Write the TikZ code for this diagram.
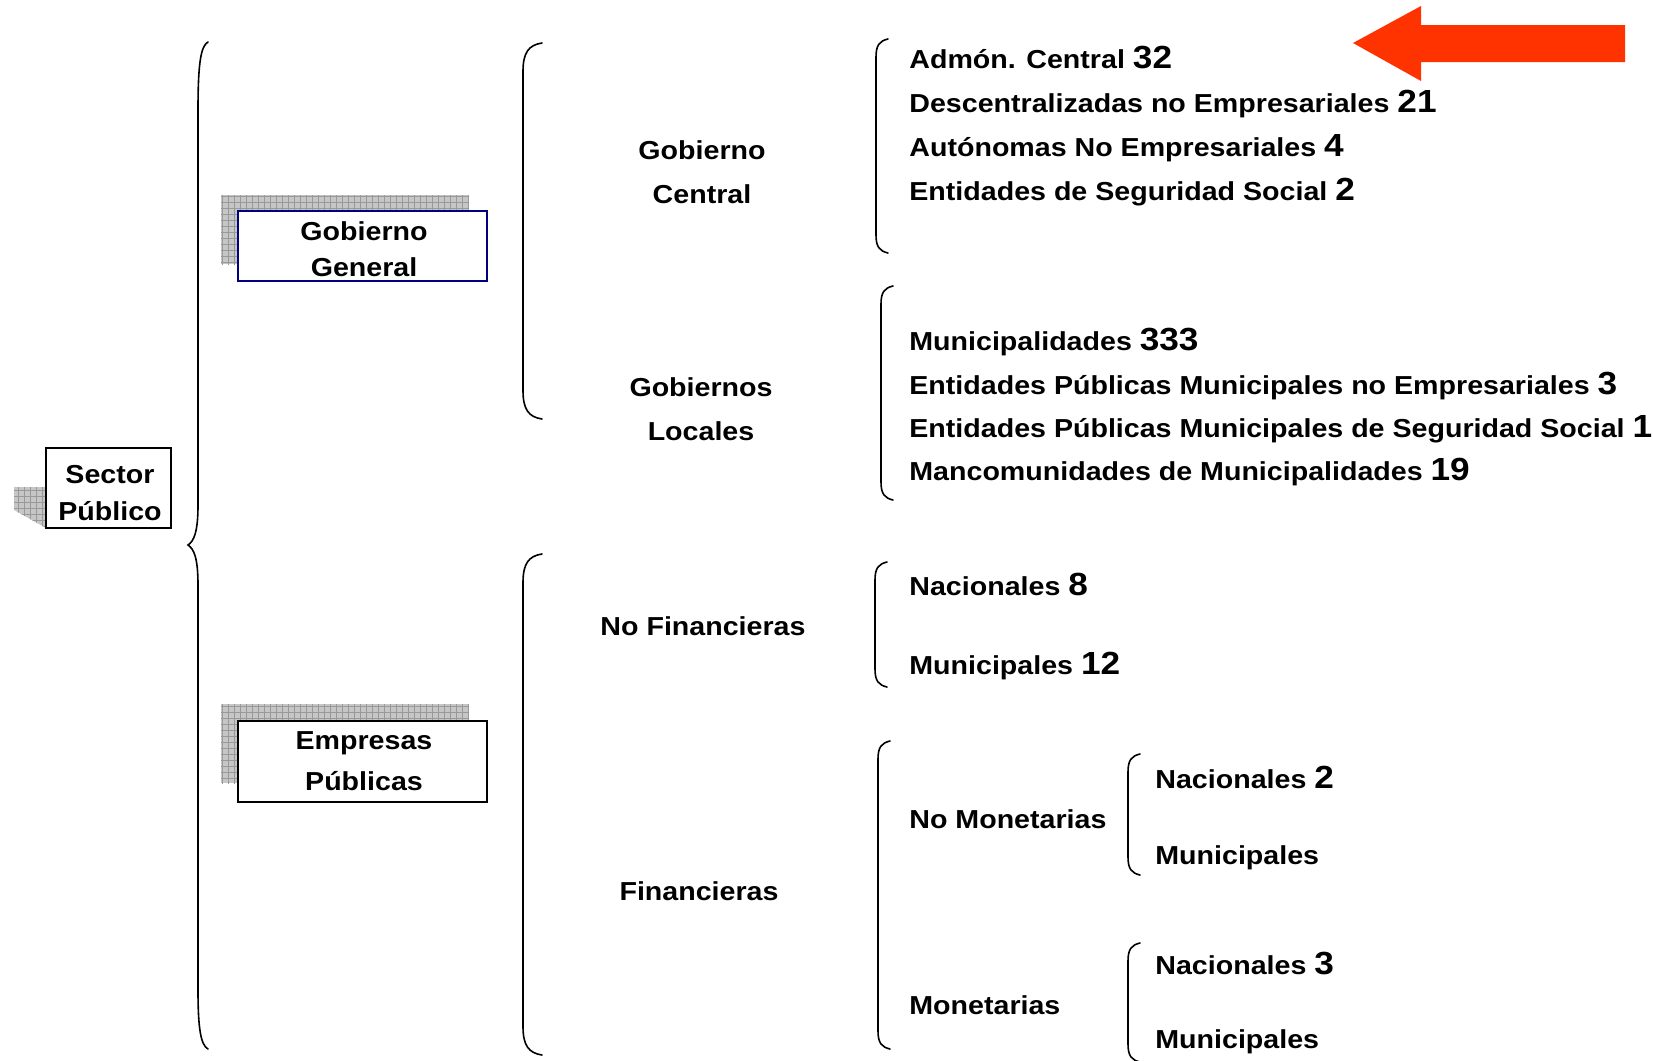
\documentclass[tikz,border=0pt]{standalone}
\usepackage{fontspec}
\setmainfont{Liberation Sans}[FakeStretch=1.1]
\usetikzlibrary{patterns}
\definecolor{boxblue}{RGB}{0,0,128}
\definecolor{arrowred}{RGB}{255,51,0}
\tikzstyle{brkt} = [line width=0.8pt, line cap=round]
\tikzstyle{boxnode} = [draw, fill=white, line width=0.8pt, inner sep=0pt]
\tikzstyle{boxtext} = [align=center, inner sep=0pt]
\tikzstyle{shade} = [fill=gray!45, postaction={pattern=grid, pattern color=gray!80}]
\tikzstyle{grp} = [align=center, inner sep=0pt, font=\bfseries\fontsize{13}{22}\selectfont]
\tikzstyle{item} = [anchor=base west, inner sep=0pt, font=\bfseries\fontsize{13}{15}\selectfont]
\newcommand{\cnt}[1]{{\fontsize{16}{18}\selectfont #1}}
\newcommand{\bracketline}[4]{\draw[brkt] (#1+#4,#2) .. controls (#1+0.3*#4,#2+2) and (#1,#2+0.5*#4) .. (#1,#2+1.5*#4) -- (#1,#3-1.5*#4) .. controls (#1,#3-0.5*#4) and (#1+0.3*#4,#3-2) .. (#1+#4,#3);}

\begin{document}
\begin{tikzpicture}[x=0.5pt, y=-0.5pt]
  \useasboundingbox (0,0) rectangle (1653,1060);

  % boxes with their shadows
  \path[shade] (14,487) -- (46,487) -- (46,528) -- (14,510) -- cycle;
  \node[boxnode, minimum width=62.5pt, minimum height=40pt] (sp) at (108.5,488) {};
  \node[boxtext, font=\bfseries\fontsize{13}{18.5}\selectfont] (sp_t) at (110,493) {Sector\\Público};
  \path[shade] (221,195) rectangle (469,264);
  \node[boxnode, draw=boxblue, minimum width=124.5pt, minimum height=35pt] (gg) at (362.5,246) {};
  \node[boxtext, font=\bfseries\fontsize{13}{18}\selectfont] (gg_t) at (364,249) {Gobierno\\General};
  \path[shade] (221,704) rectangle (469,783);
  \node[boxnode, minimum width=124.5pt, minimum height=40.5pt] (ep) at (362.5,761.5) {};
  \node[boxtext, font=\bfseries\fontsize{13}{20.5}\selectfont] (ep_t) at (364,761.5) {Empresas\\Públicas};

  % big brace
  \draw[brkt] (208,42) .. controls (201,46) and (198,62) .. (198,110) -- (198,505)
    .. controls (198,532) and (194,541) .. (188,545) .. controls (194,549) and (198,558) .. (198,585)
    -- (198,990) .. controls (198,1030) and (201,1045) .. (208,1049);

  % brackets
  \bracketline{523}{43}{419}{19}
  \bracketline{523}{554}{1055}{19}
  \bracketline{876}{39}{253}{12}
  \bracketline{881}{286}{500}{12}
  \bracketline{875}{562}{687}{12}
  \bracketline{878}{741}{1049}{12}
  \bracketline{1128}{754}{875}{12}
  \bracketline{1128}{943}{1062}{12}

  % second level
  \node[grp] (gc) at (702,172) {Gobierno\\Central};
  \node[grp] (gl) at (701,409) {Gobiernos\\Locales};
  \node[grp] (nf) at (703,626) {No Financieras};
  \node[grp] (fi) at (699,891) {Financieras};

  % third level
  \node[item] (ac) at (909,68) {Admón. Central \cnt{32}};
  \node[item] (de) at (909,112) {Descentralizadas no Empresariales \cnt{21}};
  \node[item] (au) at (909,156) {Autónomas No Empresariales \cnt{4}};
  \node[item] (es) at (909,200) {Entidades de Seguridad Social \cnt{2}};
  \node[item] (mu) at (909,350) {Municipalidades \cnt{333}};
  \node[item] (em) at (909,394) {Entidades Públicas Municipales no Empresariales \cnt{3}};
  \node[item] (ess) at (909,437) {Entidades Públicas Municipales de Seguridad Social \cnt{1}};
  \node[item] (mc) at (909,480) {Mancomunidades de Municipalidades \cnt{19}};
  \node[item] (nn) at (909,595) {Nacionales \cnt{8}};
  \node[item] (nm) at (909,674) {Municipales \cnt{12}};
  \node[item] (nmo) at (909,828) {No Monetarias};
  \node[item] (mo) at (909,1014) {Monetarias};

  % fourth level
  \node[item] (nmn) at (1155,788) {Nacionales \cnt{2}};
  \node[item] (nmm) at (1155,864) {Municipales};
  \node[item] (mon) at (1155,974) {Nacionales \cnt{3}};
  \node[item] (mom) at (1155,1048) {Municipales};

  % red arrow
  \fill[arrowred] (1353,43) -- (1421,6) -- (1421,25) -- (1625,25) -- (1625,62)
    -- (1421,62) -- (1421,81) -- cycle;
\end{tikzpicture}
\end{document}
